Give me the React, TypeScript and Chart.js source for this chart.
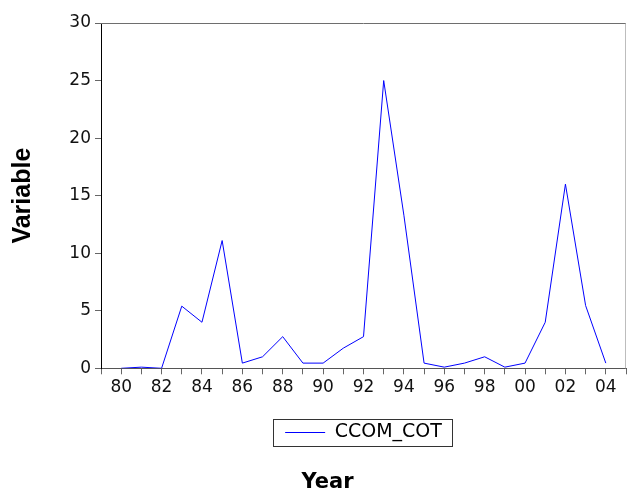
import React, { useEffect, useRef } from 'react';
import { Chart, registerables } from 'chart.js';

Chart.register(...registerables);

const years = [
  1980, 1981, 1982, 1983, 1984, 1985, 1986, 1987, 1988, 1989, 1990, 1991, 1992,
  1993, 1994, 1995, 1996, 1997, 1998, 1999, 2000, 2001, 2002, 2003, 2004,
];
const ccomCot = [
  0, 0.1, 0, 5.4, 4.0, 11.1, 0.45, 1.0, 2.75, 0.45, 0.45, 1.75, 2.75,
  25.0, 13.3, 0.45, 0.1, 0.45, 1.0, 0.1, 0.45, 4.0, 16.0, 5.45, 0.45,
];
const tickYears = [1980, 1982, 1984, 1986, 1988, 1990, 1992, 1994, 1996, 1998, 2000, 2002, 2004];
const tickLabels = ['80', '82', '84', '86', '88', '90', '92', '94', '96', '98', '00', '02', '04'];
const seriesName = 'CCOM_COT';

// top / right frame lines and the box round the legend
const framePlugin = {
  id: 'frame',
  afterDraw(chart: any) {
    const { ctx, chartArea } = chart;
    ctx.save();
    ctx.lineWidth = 1;
    const top = Math.round(chartArea.top) + 0.5;
    const right = Math.round(chartArea.right) - 0.5;
    ctx.strokeStyle = '#6e6e6e';
    ctx.beginPath();
    ctx.moveTo(chartArea.left, top);
    ctx.lineTo(chartArea.right, top);
    ctx.stroke();
    ctx.strokeStyle = '#bdbdbd';
    ctx.beginPath();
    ctx.moveTo(right, top);
    ctx.lineTo(right, chartArea.bottom);
    ctx.stroke();
    const box = chart.legend?.legendHitBoxes?.[0];
    if (box) {
      ctx.strokeStyle = '#333';
      const cy = box.top + box.height / 2;
      ctx.strokeRect(
        Math.round(box.left - 12) + 0.5,
        Math.round(cy - 13.5) + 0.5,
        Math.round(box.width + 22),
        27,
      );
    }
    ctx.restore();
  },
};

function CcomChart() {
  const chartRef = useRef<HTMLCanvasElement>(null);

  useEffect(() => {
    if (!chartRef.current) return;
    const ctx = chartRef.current.getContext('2d');
    if (!ctx) return;

    const tickFont = { family: 'DejaVu Sans', size: 17 };

    const chart = new Chart(ctx, {
      type: 'line',
      data: {
        datasets: [
          {
            label: seriesName,
            data: years.map((yr, i) => ({ x: yr, y: ccomCot[i] })),
            borderColor: '#0000ff',
            backgroundColor: '#0000ff',
            borderWidth: 1,
            pointRadius: 0,
            fill: false,
            tension: 0,
          },
        ],
      },
      options: {
        animation: false,
        responsive: true,
        maintainAspectRatio: false,
        layout: { padding: { left: 27, top: 23, right: 1, bottom: 0 } },
        plugins: {
          tooltip: { enabled: false },
          legend: {
            position: 'bottom',
            fullSize: false,
            labels: {
              usePointStyle: true,
              pointStyle: 'line',
              pointStyleWidth: 40,
              padding: 10,
              color: '#000',
              font: { family: 'DejaVu Sans', size: 19 },
            },
          },
          title: {
            display: true,
            text: 'Year',
            position: 'bottom',
            color: '#000',
            font: { family: 'DejaVu Sans', size: 21, weight: 'bold' },
            padding: { top: 17.8, bottom: -5 },
          },
        },
        scales: {
          x: {
            type: 'linear',
            min: 1979,
            max: 2005,
            afterFit: (scale: any) => {
              scale.height = 44.7;
            },
            ticks: {
              stepSize: 1,
              autoSkip: false,
              maxRotation: 0,
              maxTicksLimit: 30,
              color: '#111',
              font: tickFont,
              padding: 3,
              callback: (value: any) => {
                const i = tickYears.indexOf(Number(value));
                return i >= 0 ? tickLabels[i] : '';
              },
            },
            grid: { drawOnChartArea: false, drawTicks: true, tickLength: 6, color: '#666' },
            border: { color: '#555' },
          },
          y: {
            min: 0,
            max: 30,
            afterFit: (scale: any) => {
              scale.width = 74;
            },
            ticks: { stepSize: 5, color: '#111', font: tickFont, padding: 4 },
            grid: { drawOnChartArea: false, drawTicks: true, tickLength: 6, color: '#666' },
            border: { color: '#000' },
            title: {
              display: true,
              text: 'Variable',
              color: '#000',
              font: { family: 'Liberation Sans', size: 25, weight: 'bold' },
              padding: { top: -19, bottom: 0 },
            },
          },
        },
      },
      plugins: [framePlugin],
    });

    return () => {
      chart.destroy();
    };
  }, []);

  return (
    <div style={{ position: 'absolute', left: 0, top: 0, width: 629, height: 490, background: '#fff' }}>
      <canvas ref={chartRef} />
    </div>
  );
}

export default function App() {
  return <CcomChart />;
}
